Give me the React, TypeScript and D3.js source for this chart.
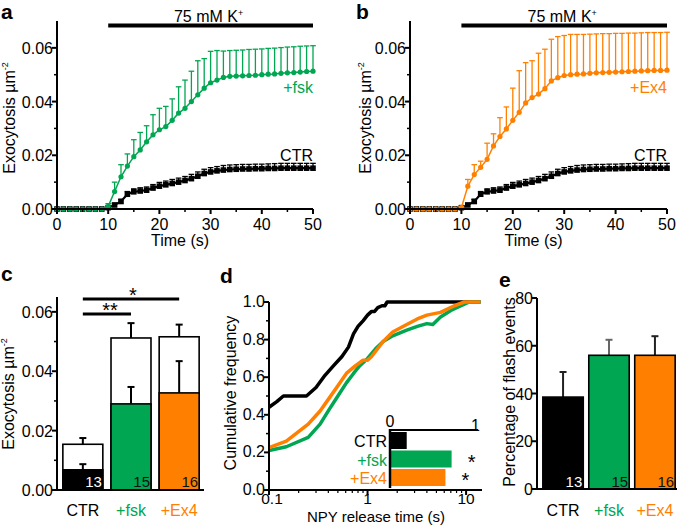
import React from 'react';
import * as d3 from 'd3';

const FONT = "'Liberation Sans', Arial, Helvetica, sans-serif";
const BLACK = '#000000';
const GREEN = '#00a651';
const ORANGE = '#ff8000';

// ---- panels a & b: time course ----
const timeS = [0,1.25,2.5,3.75,5,6.25,7.5,8.75,10,11.25,12.5,13.75,15,16.25,17.5,18.75,20,21.25,22.5,23.75,25,26.25,27.5,28.75,30,31.25,32.5,33.75,35,36.25,37.5,38.75,40,41.25,42.5,43.75,45,46.25,47.5,48.75,50];
const ctrMean = [0,0,0,0,0,0,0,0,0.0005,0.0015,0.0028,0.0055,0.0064,0.0067,0.007,0.0078,0.0085,0.009,0.0095,0.01,0.0106,0.0113,0.0122,0.0132,0.0138,0.0142,0.0145,0.0147,0.0148,0.0149,0.0149,0.015,0.015,0.0151,0.0151,0.0152,0.0152,0.0152,0.0152,0.0152,0.0152];
const ctrSem = [0,0,0,0,0,0,0,0,0.0003,0.0006,0.0008,0.001,0.0011,0.0012,0.0012,0.0013,0.0014,0.0014,0.0015,0.0015,0.0015,0.0016,0.0016,0.0016,0.0016,0.0016,0.0017,0.0017,0.0017,0.0017,0.0017,0.0017,0.0017,0.0017,0.0018,0.0018,0.0018,0.0018,0.0018,0.0018,0.0018];
const fskMean = [0,0,0,0,0,0,0,0,0.001,0.0065,0.012,0.016,0.0195,0.022,0.025,0.0276,0.0295,0.0307,0.033,0.0357,0.0375,0.04,0.0425,0.045,0.047,0.048,0.049,0.0494,0.0495,0.0496,0.0497,0.0498,0.05,0.0502,0.0503,0.0505,0.0507,0.0508,0.051,0.0512,0.0513];
const fskSem = [0,0,0,0,0,0,0,0,0.001,0.0035,0.0045,0.0045,0.0063,0.0065,0.006,0.0075,0.008,0.0075,0.008,0.0098,0.0105,0.0113,0.0127,0.011,0.0117,0.011,0.0098,0.0096,0.0096,0.0096,0.0097,0.0097,0.0096,0.0096,0.0096,0.0096,0.0096,0.0096,0.0096,0.0095,0.0095];
const ex4Mean = [0,0,0,0,0,0,0,0,0.0005,0.0085,0.0128,0.0155,0.0185,0.0235,0.027,0.0298,0.033,0.036,0.0395,0.0415,0.0428,0.0448,0.0477,0.0489,0.0497,0.05,0.0502,0.0503,0.0505,0.0507,0.0508,0.0509,0.051,0.0511,0.0512,0.0513,0.0514,0.0515,0.0516,0.0516,0.0517];
const ex4Sem = [0,0,0,0,0,0,0,0,0.0005,0.0025,0.0037,0.0023,0.006,0.0045,0.007,0.0082,0.012,0.0155,0.015,0.0137,0.0152,0.0147,0.0155,0.0153,0.0149,0.015,0.0148,0.0147,0.0146,0.0145,0.0145,0.0144,0.0144,0.0143,0.0143,0.0142,0.0142,0.0142,0.0141,0.0141,0.0141];
const timeTicks = [0, 10, 20, 30, 40, 50];
const timeMinor = [5, 15, 25, 35, 45];
const exoTicks = [0, 0.02, 0.04, 0.06];
const exoMinor = [0.01, 0.03, 0.05];
const stimStart = 10;
const stimEnd = 50;

// ---- panel c ----
const groups = ['CTR', '+fsk', '+Ex4'];
const groupColors = [BLACK, GREEN, ORANGE];
const totalMean = [0.0154, 0.0512, 0.0516];
const totalSem = [0.0021, 0.005, 0.0041];
const earlyMean = [0.0068, 0.029, 0.0327];
const earlySem = [0.0019, 0.0057, 0.0107];
const nCells = ['13', '15', '16'];

// ---- panel d ----
const cdfCtrX = [0.1,0.12,0.14,0.24,0.3,0.37,0.45,0.55,0.64,0.72,0.8,0.9,1.0,1.1,1.18,1.27,1.4,1.5,1.58,14];
const cdfCtrY = [0.44,0.47,0.5,0.5,0.545,0.61,0.66,0.71,0.76,0.83,0.87,0.9,0.93,0.95,0.95,0.97,0.98,0.98,1.0,1.0];
const cdfFskX = [0.1,0.15,0.25,0.33,0.41,0.5,0.61,0.72,0.83,1.0,1.2,1.44,1.8,2.5,3.2,4.0,4.6,5.5,7.0,8.9,10.8,14];
const cdfFskY = [0.21,0.23,0.28,0.35,0.43,0.5,0.57,0.62,0.66,0.7,0.75,0.79,0.82,0.85,0.87,0.885,0.88,0.92,0.955,0.98,1.0,1.0];
const cdfEx4X = [0.1,0.15,0.25,0.33,0.41,0.5,0.61,0.75,0.9,1.0,1.1,1.44,1.8,2.5,3.2,4.0,5.5,7.6,9.6,14];
const cdfEx4Y = [0.225,0.26,0.35,0.42,0.49,0.555,0.62,0.66,0.69,0.69,0.71,0.79,0.84,0.88,0.91,0.93,0.945,0.98,1.0,1.0];
const freqTicks = [0, 0.2, 0.4, 0.6, 0.8, 1.0];
const freqMinor = [0.1, 0.3, 0.5, 0.7, 0.9];
const insetValues = [0.19, 0.70, 0.63];
const insetStars = ['', '*', '*'];

// ---- panel e ----
const flashPct = [38.5, 56, 56];
const flashSem = [10.5, 6.5, 8];
const flashErrColors = ['#222', '#666', '#222'];
const pctTicks = [0, 20, 40, 60, 80];

const txt = (extra: any = {}) => ({ fontFamily: FONT, fontSize: 16, ...extra });

function YTitle({ x, y, children }: any) {
  return (
    <text transform={`translate(${x},${y}) rotate(-90)`} textAnchor="middle" style={txt()}>
      {children}
    </text>
  );
}

function ExoTitle({ x, y }: any) {
  return (
    <YTitle x={x} y={y}>
      Exocytosis µm
      <tspan dy={-7} fontSize={9}>-2</tspan>
    </YTitle>
  );
}

function TimePanel({ x0, x1, mean, sem, color, label, letter, letterX, titleX }: any) {
  const xs = d3.scaleLinear().domain([0, 50]).range([x0, x1]);
  const ys = d3.scaleLinear().domain([0, 0.07]).range([209, 21]);
  const line = d3.line<number>().x((_, i) => xs(timeS[i])).y((v) => ys(v));
  const series = (m: number[], s: number[], c: string, square: boolean) => (
    <g>
      <path d={line(m) || ''} fill="none" stroke={c} strokeWidth={square ? 2.2 : 1.5} />
      {m.map((v, i) => (
        <g key={i} stroke={c} strokeWidth={1.3}>
          <line x1={xs(timeS[i])} x2={xs(timeS[i])} y1={ys(v)} y2={ys(v + s[i])} />
          <line x1={xs(timeS[i]) - 2.8} x2={xs(timeS[i]) + 2.8} y1={ys(v + s[i])} y2={ys(v + s[i])} />
        </g>
      ))}
      {m.map((v, i) =>
        square ? (
          <rect key={'m' + i} x={xs(timeS[i]) - 2.8} y={ys(v) - 2.8} width={5.6} height={5.6} fill={c} />
        ) : (
          <circle key={'m' + i} cx={xs(timeS[i])} cy={ys(v)} r={2.6} fill={c} />
        )
      )}
    </g>
  );
  return (
    <g>
      <text x={letterX} y={19} style={txt({ fontSize: 21, fontWeight: 'bold' })}>{letter}</text>
      {/* stimulus bar */}
      <line x1={xs(stimStart)} x2={xs(stimEnd)} y1={25.5} y2={25.5} stroke={BLACK} strokeWidth={4} />
      <text x={(xs(stimStart) + xs(stimEnd)) / 2 - 2} y={21.5} textAnchor="middle" style={txt()}>
        75 mM K<tspan dy={-6} fontSize={9}>+</tspan>
      </text>
      {series(ctrMean, ctrSem, BLACK, true)}
      {series(mean, sem, color, false)}
      {/* axes */}
      <line x1={x0} x2={x0} y1={ys(0)} y2={21} stroke={BLACK} strokeWidth={2} />
      <line x1={x0 - 1} x2={x1} y1={ys(0)} y2={ys(0)} stroke={BLACK} strokeWidth={2} />
      {exoTicks.map((t) => (
        <g key={t}>
          <line x1={x0 - 5} x2={x0} y1={ys(t)} y2={ys(t)} stroke={BLACK} strokeWidth={2} />
          <text x={x0 - 4} y={ys(t) + 6} textAnchor="end" style={txt()}>{d3.format('.2f')(t)}</text>
        </g>
      ))}
      {exoMinor.map((t) => (
        <line key={t} x1={x0 - 3} x2={x0} y1={ys(t)} y2={ys(t)} stroke={BLACK} strokeWidth={1.5} />
      ))}
      {timeTicks.map((t) => (
        <g key={t}>
          <line x1={xs(t)} x2={xs(t)} y1={ys(0)} y2={ys(0) + 5} stroke={BLACK} strokeWidth={2} />
          <text x={xs(t)} y={230} textAnchor="middle" style={txt()}>{t}</text>
        </g>
      ))}
      {timeMinor.map((t) => (
        <line key={t} x1={xs(t)} x2={xs(t)} y1={ys(0)} y2={ys(0) + 3} stroke={BLACK} strokeWidth={1.5} />
      ))}
      <text x={(x0 + x1) / 2 - 5} y={246} textAnchor="middle" style={txt()}>Time (s)</text>
      <ExoTitle x={titleX} y={118} />
      <text x={x1} y={93} textAnchor="end" style={txt({ fill: color })}>{label}</text>
      <text x={x1} y={161} textAnchor="end" style={txt()}>CTR</text>
    </g>
  );
}

function PanelC() {
  const ys = d3.scaleLinear().domain([0, 0.065]).range([490, 297]);
  const xb = d3.scaleBand().domain(groups).range([59, 203]).paddingInner(0.17).paddingOuter(0.08);
  const bw = xb.bandwidth();
  const err = (cx: number, v: number, s: number, key: string) => (
    <g key={key} stroke={BLACK} strokeWidth={2}>
      <line x1={cx} x2={cx} y1={ys(v)} y2={ys(v + s)} />
      <line x1={cx - 3.5} x2={cx + 3.5} y1={ys(v + s)} y2={ys(v + s)} />
    </g>
  );
  return (
    <g>
      <text x={1} y={281} style={txt({ fontSize: 21, fontWeight: 'bold' })}>c</text>
      {groups.map((g, i) => {
        const x = xb(g) as number;
        const cx = x + bw / 2;
        return (
          <g key={g}>
            {err(cx, totalMean[i], totalSem[i], 'te')}
            <rect x={x} y={ys(totalMean[i])} width={bw} height={ys(0) - ys(totalMean[i])} fill="#fff" stroke={BLACK} strokeWidth={1.6} />
            <rect x={x} y={ys(earlyMean[i])} width={bw} height={ys(0) - ys(earlyMean[i])} fill={groupColors[i]} stroke={BLACK} strokeWidth={1.6} />
            {err(cx, earlyMean[i], earlySem[i], 'ee')}
            <text x={x + bw - 1} y={487} textAnchor="end" style={txt({ fontSize: 15, fill: i === 0 ? '#fff' : '#111' })}>{nCells[i]}</text>
            <text x={cx} y={516} textAnchor="middle" style={txt({ fill: groupColors[i] })}>{g}</text>
          </g>
        );
      })}
      <line x1={57} x2={57} y1={ys(0)} y2={297} stroke={BLACK} strokeWidth={2} />
      <line x1={56} x2={204} y1={ys(0)} y2={ys(0)} stroke={BLACK} strokeWidth={2} />
      {exoTicks.map((t) => (
        <g key={t}>
          <line x1={52} x2={57} y1={ys(t)} y2={ys(t)} stroke={BLACK} strokeWidth={2} />
          <text x={53} y={ys(t) + 6} textAnchor="end" style={txt()}>{d3.format('.2f')(t)}</text>
        </g>
      ))}
      {exoMinor.map((t) => (
        <line key={t} x1={54} x2={57} y1={ys(t)} y2={ys(t)} stroke={BLACK} strokeWidth={1.5} />
      ))}
      {/* significance */}
      <line x1={(xb('CTR') as number) + bw / 2} x2={(xb('+Ex4') as number) + bw / 2} y1={299} y2={299} stroke={BLACK} strokeWidth={3} />
      <text x={133} y={302} textAnchor="middle" style={txt({ fontSize: 20 })}>*</text>
      <line x1={(xb('CTR') as number) + bw / 2} x2={(xb('+fsk') as number) + bw / 2} y1={314} y2={314} stroke={BLACK} strokeWidth={3} />
      <text x={110} y={317} textAnchor="middle" style={txt({ fontSize: 20 })}>**</text>
      <ExoTitle x={14} y={394} />
    </g>
  );
}

function PanelD() {
  const xs = d3.scaleLog().domain([0.1, 14.5]).range([269, 482]);
  const ys = d3.scaleLinear().domain([0, 1]).range([490, 302]);
  const mk = (X: number[], Y: number[]) =>
    d3.line<number>().x((v) => xs(v)).y((_, i) => ys(Y[i]))(X) || '';
  const logTicks = xs.ticks();
  const ix = d3.scaleLinear().domain([0, 1]).range([390, 478]);
  const iy = d3.scaleBand().domain(groups).range([432, 486]).paddingInner(0.08);
  return (
    <g>
      <text x={220} y={283} style={txt({ fontSize: 21, fontWeight: 'bold' })}>d</text>
      <path d={mk(cdfCtrX, cdfCtrY)} fill="none" stroke={BLACK} strokeWidth={3.5} strokeLinejoin="round" />
      <path d={mk(cdfFskX, cdfFskY)} fill="none" stroke={GREEN} strokeWidth={3.5} strokeLinejoin="round" />
      <path d={mk(cdfEx4X, cdfEx4Y)} fill="none" stroke={ORANGE} strokeWidth={3.5} strokeLinejoin="round" />
      {/* inset */}
      {groups.map((g, i) => (
        <g key={g}>
          <rect x={ix(0)} y={iy(g) as number} width={ix(insetValues[i]) - ix(0)} height={iy.bandwidth()} fill={groupColors[i]} />
          <text x={387} y={(iy(g) as number) + iy.bandwidth() - 2} textAnchor="end" style={txt({ fill: groupColors[i] })}>{g}</text>
          {insetStars[i] && (
            <text x={ix(insetValues[i]) + 20} y={(iy(g) as number) + iy.bandwidth() + 1} textAnchor="middle" style={txt({ fontSize: 20 })}>{insetStars[i]}</text>
          )}
        </g>
      ))}
      <line x1={ix(0)} x2={ix(1)} y1={430} y2={430} stroke={BLACK} strokeWidth={2} />
      <line x1={ix(0)} x2={ix(0)} y1={429} y2={488} stroke={BLACK} strokeWidth={2.5} />
      <text x={ix(0)} y={427} textAnchor="middle" style={txt()}>0</text>
      <text x={ix(1) + 2} y={431} textAnchor="end" style={txt()}>1</text>
      {/* axes */}
      <line x1={269} x2={269} y1={ys(0)} y2={ys(1)} stroke={BLACK} strokeWidth={2} />
      <line x1={268} x2={482} y1={ys(0)} y2={ys(0)} stroke={BLACK} strokeWidth={2} />
      {freqTicks.map((t) => (
        <g key={t}>
          <line x1={264} x2={269} y1={ys(t)} y2={ys(t)} stroke={BLACK} strokeWidth={2} />
          <text x={265} y={ys(t) + 5} textAnchor="end" style={txt()}>{d3.format('.1f')(t)}</text>
        </g>
      ))}
      {freqMinor.map((t) => (
        <line key={t} x1={266} x2={269} y1={ys(t)} y2={ys(t)} stroke={BLACK} strokeWidth={1.5} />
      ))}
      {logTicks.map((t) => {
        const major = Math.abs(Math.log10(t) - Math.round(Math.log10(t))) < 1e-6;
        return (
          <g key={t}>
            <line x1={xs(t)} x2={xs(t)} y1={ys(0)} y2={ys(0) + (major ? 5 : 3)} stroke={BLACK} strokeWidth={major ? 2 : 1.2} />
            {major && (
              <text x={xs(t) + (t < 1 ? 3 : 0)} y={504} textAnchor="middle" style={txt({ fontSize: 15.5 })}>{t >= 1 ? d3.format('d')(t) : String(t)}</text>
            )}
          </g>
        );
      })}
      <text x={376} y={521.5} textAnchor="middle" style={txt({ fontSize: 15 })}>NPY release time (s)</text>
      <YTitle x={236} y={393}>Cumulative frequency</YTitle>
    </g>
  );
}

function PanelE() {
  const ys = d3.scaleLinear().domain([0, 80]).range([489, 298]);
  const xb = d3.scaleBand().domain(groups).range([541, 677]).paddingInner(0.12).paddingOuter(0.04);
  const bw = xb.bandwidth();
  return (
    <g>
      <text x={499} y={287} style={txt({ fontSize: 21, fontWeight: 'bold' })}>e</text>
      {groups.map((g, i) => {
        const x = xb(g) as number;
        const cx = x + bw / 2;
        return (
          <g key={g}>
            <line x1={cx} x2={cx} y1={ys(flashPct[i])} y2={ys(flashPct[i] + flashSem[i])} stroke={flashErrColors[i]} strokeWidth={2} />
            <line x1={cx - 3.5} x2={cx + 3.5} y1={ys(flashPct[i] + flashSem[i])} y2={ys(flashPct[i] + flashSem[i])} stroke={flashErrColors[i]} strokeWidth={2} />
            <rect x={x} y={ys(flashPct[i])} width={bw} height={ys(0) - ys(flashPct[i])} fill={groupColors[i]} stroke={BLACK} strokeWidth={1.6} />
            <text x={x + bw - 1} y={487} textAnchor="end" style={txt({ fontSize: 15, fill: i === 0 ? '#fff' : '#111' })}>{nCells[i]}</text>
            <text x={cx} y={516} textAnchor="middle" style={txt({ fill: groupColors[i] })}>{g}</text>
          </g>
        );
      })}
      <line x1={537} x2={537} y1={ys(0)} y2={ys(80)} stroke={BLACK} strokeWidth={2} />
      <line x1={536} x2={677} y1={ys(0)} y2={ys(0)} stroke={BLACK} strokeWidth={2} />
      {pctTicks.map((t) => (
        <g key={t}>
          <line x1={532} x2={537} y1={ys(t)} y2={ys(t)} stroke={BLACK} strokeWidth={2} />
          <text x={533} y={ys(t) + 6} textAnchor="end" style={txt()}>{t}</text>
        </g>
      ))}
      <YTitle x={515} y={392}>Percentage of flash events</YTitle>
    </g>
  );
}

export default function App() {
  return (
    <svg width={677} height={525} viewBox="0 0 677 525" style={{ position: 'absolute', left: 0, top: 0, background: '#fff' }}>
      <rect x={0} y={0} width={677} height={525} fill="#fff" />
      <TimePanel x0={57} x1={313} mean={fskMean} sem={fskSem} color={GREEN} label="+fsk" letter="a" letterX={1} titleX={15} />
      <TimePanel x0={410} x1={667} mean={ex4Mean} sem={ex4Sem} color={ORANGE} label="+Ex4" letter="b" letterX={356} titleX={371} />
      <PanelC />
      <PanelD />
      <PanelE />
    </svg>
  );
}
